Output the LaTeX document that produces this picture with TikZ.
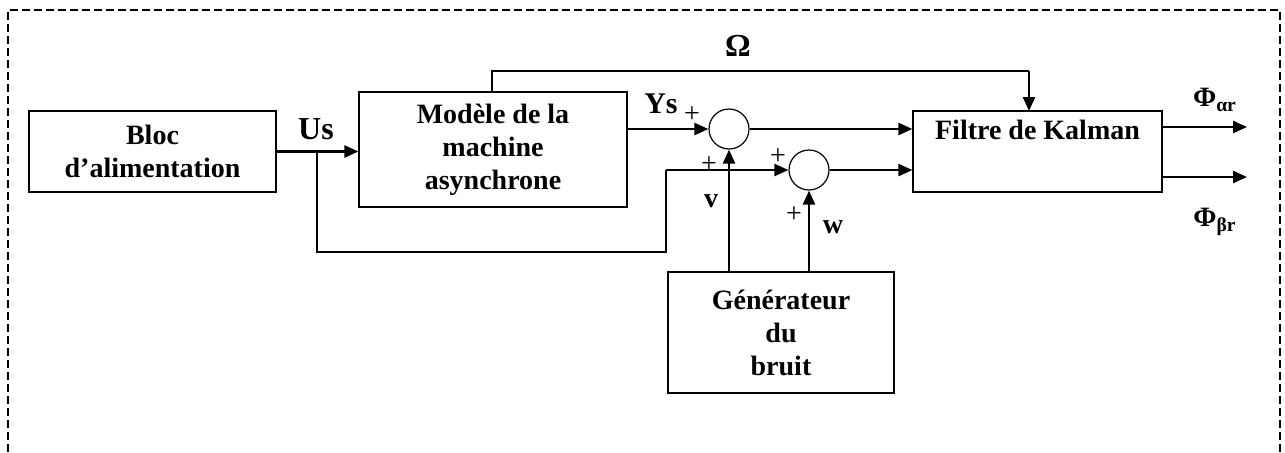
\documentclass[tikz,border=0pt]{standalone}
\usepackage{fontspec}
\setmainfont{Liberation Serif}
\usetikzlibrary{arrows.meta}

\begin{document}
\begin{tikzpicture}[x=0.5pt,y=-0.5pt,
 bloc/.style={draw,line width=0.6pt,align=center,inner sep=0pt,
  font=\fontsize{14}{16.5}\selectfont\bfseries},
 somme/.style={draw,circle,line width=0.6pt,minimum size=20pt,inner sep=0pt},
 fleche/.style={line width=1.2pt,-{Triangle[length=7pt,width=6pt]}},
 fil/.style={line width=0.6pt},
 lab/.style={font=\fontsize{16}{18}\selectfont\bfseries},
 signe/.style={font=\fontsize{14}{16}\selectfont}]
\useasboundingbox (0,0) rectangle (1285,452);
\draw[line width=1.2pt,dash pattern=on 4pt off 2pt] (8,500) -- (8,10) -- (1280,10) -- (1280,500);

\node[bloc,minimum width=123.5pt,minimum height=40.5pt] (alim) at (152.5,151.5) {Bloc\\d’alimentation};
\node[bloc,minimum width=134pt,minimum height=57.5pt] (mas) at (493,149.5) {Modèle de la\\machine\\asynchrone};
\node[bloc,minimum width=124.5pt,minimum height=40.5pt] (kalman) at (1037.5,151.5) {Filtre de Kalman\\\strut};
\node[bloc,minimum width=113pt,minimum height=60.5pt] (gen) at (781,332.5) {Générateur\\du\\bruit};
\node[somme] (s1) at (729,129) {};
\node[somme] (s2) at (809,170) {};

\coordinate (us) at (317,151.5);
\coordinate (coin) at (666,170);
\coordinate (om) at (492,71);
\coordinate (out1) at (1247,127);
\coordinate (out2) at (1247,177);

\draw[fleche] (alim.east) -- (alim.east -| mas.west);
\draw[fil] (us) -- (317,252) -- (666,252) -- (coin);
\draw[fleche] (coin) -- (s2.west);
\draw[fleche] (mas.east |- s1) -- (s1.west);
\draw[fleche] (s1.east) -- (s1 -| kalman.west);
\draw[fleche] (s2.east) -- (s2 -| kalman.west);
\draw[fleche] (s1 |- gen.north) -- (s1.south);
\draw[fleche] (s2 |- gen.north) -- (s2.south);
\draw[fil] (om |- mas.north) -- (om) -- (1029,71);
\draw[fleche] (1029,71) -- (1029,111);
\draw[fleche] (kalman.east |- out1) -- (out1);
\draw[fleche] (kalman.east |- out2) -- (out2);

\node[lab] (lus) at (316,129) {Us};
\node[lab,font=\fontsize{15}{17}\selectfont\bfseries] (lys) at (661,104) {Ys};
\node[lab] (lom) at (738,46) {Ω};
\node[lab,font=\fontsize{14}{16}\selectfont\bfseries] (lv) at (711,201) {v};
\node[lab,font=\fontsize{14}{16}\selectfont\bfseries] (lw) at (833,227) {w};
\node[lab,font=\fontsize{14}{16}\selectfont\bfseries] (lphia) at (1215,100) {Φ\textsubscript{αr}};
\node[lab,font=\fontsize{14}{16}\selectfont\bfseries] (lphib) at (1215,222) {Φ\textsubscript{βr}};
\foreach \x/\y [count=\i] in {692/115,709/165,778/157,794/215}
 \node[signe] (plus\i) at (\x,\y) {+};
\end{tikzpicture}
\end{document}
